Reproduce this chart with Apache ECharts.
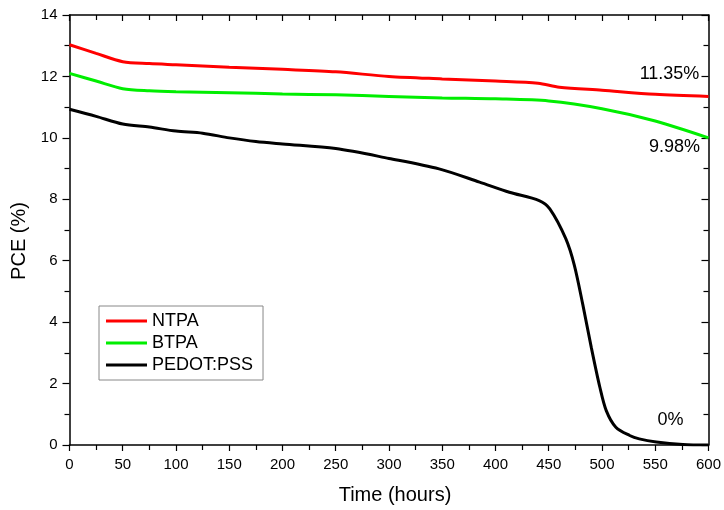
<!DOCTYPE html>
<html><head><meta charset="utf-8">
<script src="https://cdn.jsdelivr.net/npm/echarts@6/dist/echarts.min.js"></script>
<style>html,body{margin:0;padding:0;background:#fff}#c{width:724px;height:510px}</style>
</head><body><div id="c"></div>
<script>
const ntpaHours = [0, 25, 50, 75, 100, 150, 200, 250, 300, 350, 400, 440, 460, 500, 550, 600];
const ntpaPCE   = [13.03, 12.75, 12.48, 12.42, 12.38, 12.3, 12.23, 12.15, 12.0, 11.92, 11.85, 11.78, 11.65, 11.55, 11.42, 11.35];
const btpaHours = [0, 25, 50, 75, 100, 150, 200, 250, 300, 350, 400, 450, 500, 550, 600];
const btpaPCE   = [12.1, 11.85, 11.6, 11.53, 11.5, 11.47, 11.43, 11.4, 11.35, 11.3, 11.27, 11.2, 10.95, 10.55, 10.0];
const pedotHours = [0, 25, 50, 75, 100, 125, 150, 175, 200, 250, 300, 347, 385, 413, 441, 451, 466, 474, 482, 490, 498, 504, 513, 526, 535, 551, 576, 600];
const pedotPCE   = [10.93, 10.7, 10.45, 10.35, 10.22, 10.15, 10.0, 9.88, 9.8, 9.65, 9.33, 8.99, 8.56, 8.23, 7.96, 7.69, 6.72, 5.86, 4.57, 3.17, 1.88, 1.12, 0.58, 0.31, 0.2, 0.1, 0.02, 0.0];
const seriesNames = ['NTPA', 'BTPA', 'PEDOT:PSS'];
const endLabels = ['11.35%', '9.98%', '0%'];

const zip = (a, b) => a.map((v, i) => [v, b[i]]);
const font = 'Liberation Sans, Arial, sans-serif';
const chart = echarts.init(document.getElementById('c'));
const axLine = {show: true, onZero: false, lineStyle: {color: '#000', width: 1.5}};
const tk = {color: '#000', width: 1.2};
const mk = (x, y, text, off) => ({
  symbol: 'circle', symbolSize: 0, silent: true,
  data: [{coord: [x, y], label: {show: true, formatter: text, position: 'inside', offset: off,
    color: '#000', fontSize: 18, fontFamily: font}}]
});
chart.setOption({
  animation: false,
  backgroundColor: '#fff',
  grid: {left: 69.5, right: 15, top: 15, bottom: 62},
  legend: {
    orient: 'vertical', left: 99, top: 306, padding: [6, 10, 6, 7],
    borderColor: '#888', borderWidth: 1, itemWidth: 41, itemHeight: 3, itemGap: 4,
    icon: 'rect',
    textStyle: {fontSize: 18, lineHeight: 18, fontFamily: font, color: '#000'},
    data: seriesNames
  },
  xAxis: [{
    type: 'value', min: 0, max: 600, interval: 50,
    name: 'Time (hours)', nameLocation: 'middle', nameGap: 40,
    nameTextStyle: {fontSize: 20, fontFamily: font, color: '#000', padding: [0, 0, 0, 12]},
    axisLine: axLine, splitLine: {show: false},
    axisTick: {show: true, length: 6, lineStyle: tk},
    minorTick: {show: true, splitNumber: 2, length: 5, lineStyle: tk},
    axisLabel: {fontSize: 15, fontFamily: font, color: '#000', margin: 12}
  }, {
    type: 'value', min: 0, max: 600, interval: 50, position: 'top',
    axisLine: axLine, splitLine: {show: false}, axisLabel: {show: false},
    axisTick: {show: true, inside: true, length: 6, lineStyle: tk},
    minorTick: {show: true, splitNumber: 2, length: 5, lineStyle: tk}
  }],
  yAxis: [{
    type: 'value', min: 0, max: 14, interval: 2,
    name: 'PCE (%)', nameLocation: 'middle', nameGap: 36,
    nameTextStyle: {fontSize: 20, fontFamily: font, color: '#000', padding: [0, 22, 0, 0]},
    axisLine: axLine, splitLine: {show: false},
    axisTick: {show: true, length: 7, lineStyle: tk},
    minorTick: {show: true, splitNumber: 2, length: 5, lineStyle: tk},
    axisLabel: {fontSize: 15, fontFamily: font, color: '#000', margin: 12}
  }, {
    type: 'value', min: 0, max: 14, interval: 2, position: 'right',
    axisLine: axLine, splitLine: {show: false}, axisLabel: {show: false},
    axisTick: {show: true, inside: true, length: 7, lineStyle: tk},
    minorTick: {show: true, splitNumber: 2, length: 5, lineStyle: tk}
  }],
  series: [
    {name: seriesNames[0], type: 'line', smooth: 0.3, showSymbol: false, color: '#ff0000',
     lineStyle: {width: 3, color: '#ff0000'}, data: zip(ntpaHours, ntpaPCE),
     markPoint: mk(600, 11.35, endLabels[0], [-39, -22])},
    {name: seriesNames[1], type: 'line', smooth: 0.3, showSymbol: false, color: '#00ee00',
     lineStyle: {width: 3, color: '#00ee00'}, data: zip(btpaHours, btpaPCE),
     markPoint: mk(600, 9.98, endLabels[1], [-34, 9])},
    {name: seriesNames[2], type: 'line', smooth: 0.3, showSymbol: false, color: '#000000',
     lineStyle: {width: 3, color: '#000'}, data: zip(pedotHours, pedotPCE),
     markPoint: mk(600, 0, endLabels[2], [-38, -25])}
  ]
});
</script></body></html>
